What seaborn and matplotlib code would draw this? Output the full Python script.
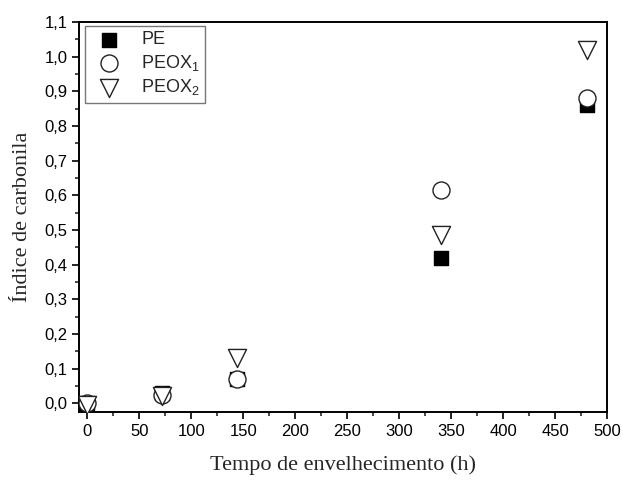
import matplotlib
matplotlib.use("Agg")
import matplotlib.pyplot as plt
from matplotlib.ticker import MultipleLocator, FuncFormatter
import seaborn as sns
import pandas as pd

tempo = [0, 72, 144, 340, 480]
pe = [0.0, 0.03, 0.07, 0.42, 0.86]
peox1 = [0.0, 0.025, 0.07, 0.615, 0.88]
peox2 = [-0.005, 0.02, 0.13, 0.485, 1.02]
series = ["PE", "PEOX$_\\mathregular{1}$", "PEOX$_\\mathregular{2}$"]

sns.set_theme(style="ticks")
plt.rcParams['font.family'] = ['Liberation Sans', 'DejaVu Sans']
plt.rcParams['mathtext.default'] = 'regular'

df = pd.DataFrame({
    "t": tempo * 3,
    "v": pe + peox1 + peox2,
    "s": [series[0]] * 5 + [series[1]] * 5 + [series[2]] * 5,
})

fig = plt.figure(figsize=(6.23, 4.8), dpi=100)
ax = fig.add_axes([0.127, 0.142, 0.848, 0.812])

styles = {
    series[0]: dict(marker="s", s=110, color="black", edgecolor="black", linewidth=1),
    series[1]: dict(marker="o", s=150, color="white", edgecolor="#222222", linewidth=1),
    series[2]: dict(marker="v", s=170, color="white", edgecolor="#222222", linewidth=1),
}
for name in series:
    sub = df[df.s == name]
    sns.scatterplot(data=sub, x="t", y="v", ax=ax, label=name, zorder=3, **styles[name])

ax.set_xlim(-8, 500)
ax.set_ylim(-0.025, 1.1)
ax.xaxis.set_major_locator(MultipleLocator(50))
ax.xaxis.set_minor_locator(MultipleLocator(25))
ax.yaxis.set_major_locator(MultipleLocator(0.1))
ax.yaxis.set_minor_locator(MultipleLocator(0.05))
ax.yaxis.set_major_formatter(FuncFormatter(lambda v, p: f"{v:.1f}".replace(".", ",").replace("-0,0", "0,0")))
ax.tick_params(which="major", direction="out", length=5, width=1.2, labelsize=12, colors="black")
ax.tick_params(which="minor", direction="out", length=3, width=1.2)
for sp in ax.spines.values():
    sp.set_visible(True)
    sp.set_linewidth(1.4)
    sp.set_color("black")

ax.set_xlabel("Tempo de envelhecimento (h)", family="Liberation Serif", fontsize=16, labelpad=12)
ax.set_ylabel("Índice de carbonila", family="Liberation Serif", fontsize=16, labelpad=9)

leg = ax.legend(loc="upper left", frameon=True, fancybox=False, fontsize=13,
                handletextpad=0.8, borderpad=0.3, labelspacing=0.25,
                borderaxespad=0, bbox_to_anchor=(0.012, 0.99), edgecolor="#555555")
leg.get_frame().set_linewidth(1.0)

fig.savefig("out.png", dpi=100)
